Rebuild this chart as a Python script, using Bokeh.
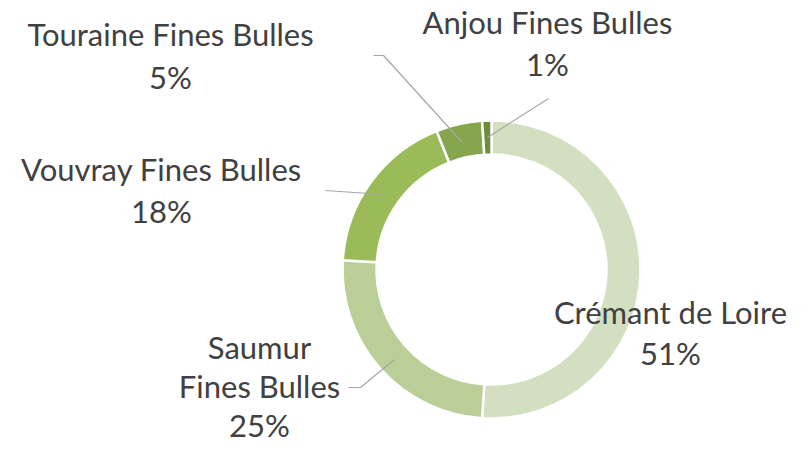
import math
from bokeh.plotting import figure
from bokeh.models import ColumnDataSource
from bokeh.core.properties import value
from bokeh.embed import file_html
from bokeh.resources import INLINE

# ---- data ----
categories = ["Crémant de Loire", "Saumur Fines Bulles", "Vouvray Fines Bulles",
              "Touraine Fines Bulles", "Anjou Fines Bulles"]
shares = [51, 25, 18, 5, 1]
colors = ["#d2dfc0", "#bacf97", "#9bbb59", "#87a54d", "#6d8d3c"]

# ---- layout (pixel space of the figure) ----
W, H = 796, 445
def px(x, y):
    return x, H - y

cx, cy = px(491, 269)
r_out, r_in = 149, 115

total = float(sum(shares))
starts, ends = [], []
acc = 0.0
for s in shares:
    starts.append(math.pi / 2 - acc / total * 2 * math.pi)
    acc += s
    ends.append(math.pi / 2 - acc / total * 2 * math.pi)

p = figure(width=W, height=H, x_range=(0, W), y_range=(0, H),
           output_backend="svg", toolbar_location=None, min_border=0)
p.axis.visible = False
p.grid.visible = False
p.outline_line_color = None
p.background_fill_color = "white"

src = ColumnDataSource(dict(start=starts, end=ends, color=colors))
p.annular_wedge(x=cx, y=cy, inner_radius=r_in, outer_radius=r_out,
                start_angle="start", end_angle="end", direction="clock",
                fill_color="color", line_color="white", line_width=2.5, source=src)

# leader lines
leaders = [
    [(348, 387), (360, 387), (394, 359)],        # Saumur
    [(325, 190), (383, 194)],                    # Vouvray
    [(373, 55), (383, 55), (461, 141)],          # Touraine
    [(548, 98), (487, 137)],                     # Anjou
]
xs, ys = [], []
for path in leaders:
    pts = [px(a, b) for a, b in path]
    xs.append([q[0] for q in pts])
    ys.append([q[1] for q in pts])
p.multi_line(xs=xs, ys=ys, line_color="#a6a6a6", line_width=1.2)

# labels: (category lines, center x, first baseline y, line gap)
label_layout = {
    "Crémant de Loire": (["Crémant de Loire"], 670, 311, 41),
    "Saumur Fines Bulles": (["Saumur", "Fines Bulles"], 259, 346, 39),
    "Vouvray Fines Bulles": (["Vouvray Fines Bulles"], 161, 168, 42),
    "Touraine Fines Bulles": (["Touraine Fines Bulles"], 170, 33, 43),
    "Anjou Fines Bulles": (["Anjou Fines Bulles"], 547, 21, 42),
}
tx, ty, tt = [], [], []
for cat, sh in zip(categories, shares):
    lines, lx, ly, gap = label_layout[cat]
    lines = lines + [f"{round(sh / total * 100)}%"]
    for i, t in enumerate(lines):
        X, Y = px(lx, ly + i * gap)
        tx.append(X); ty.append(Y); tt.append(t)

p.text(x=tx, y=ty, text=tt, text_align="center", text_baseline="alphabetic",
       text_font=value("Lato"), text_font_size="31px", text_color="#404040")

open("out.html", "w").write(file_html(p, INLINE))
